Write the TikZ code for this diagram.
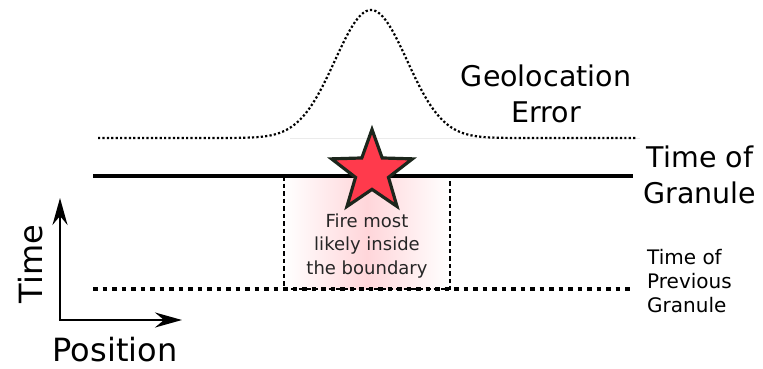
\documentclass[tikz,border=0pt]{standalone}
\usepackage{fontspec}
\setmainfont{DejaVu Sans}
\usetikzlibrary{shapes.geometric,arrows.meta}
\definecolor{firered}{HTML}{FF3A4C}
\definecolor{stardark}{HTML}{1C261C}
\definecolor{boxpink}{HTML}{FFD6DA}
\tikzset{
  bigtext/.style={font=\fontsize{28.5}{36}\selectfont, align=center, inner sep=0pt},
  smalltext/.style={font=\fontsize{20}{24}\selectfont, align=left, inner sep=0pt},
  boxtext/.style={font=\fontsize{18}{23.5}\selectfont, align=center, text=black!85, inner sep=0pt},
  axistext/.style={font=\fontsize{32}{38}\selectfont, inner sep=0pt},
  axisarrow/.style={line width=2.3pt, -{Stealth[length=27pt, width=15pt, inset=9pt]}},
}
\begin{document}
\begin{tikzpicture}[x=1pt, y=-1pt]
    \useasboundingbox (0,0) rectangle (763,369);
    %campana errore
        \draw[black!8, line width=0.8pt] (290,138) -- (640,138);
        \draw[line width=2.2pt, dash pattern=on 2.2pt off 2.2pt]
            plot[domain=98:636, samples=220, smooth] (\x, {138-128*exp(-0.5*((\x-371)/36)^2)});
        \node[bigtext] (errlabel) at (546,94) {Geolocation\\Error};
    %riquadro
        \shade[left color=white, right color=white, middle color=boxpink] (284,176) rectangle (450,289);
        \draw[line width=2.8pt, dash pattern=on 4.5pt off 3pt] (284,176) rectangle (450,289);
        \node[boxtext] (firetext) at (367,246) {Fire most\\likely inside\\the boundary};
    %linee tempo
        \coordinate (nowl) at (93,176);
        \coordinate (nowr) at (633,176);
        \coordinate (prevl) at (93,289);
        \coordinate (prevr) at (633,289);
        \draw[line width=3.3pt] (nowl) -- (nowr);
        \draw[line width=4.8pt, dash pattern=on 4.8pt off 4.7pt] (prevl) -- (prevr);
        \node[bigtext] (granlabel) at (700,175) {Time of\\Granule};
        \node[smalltext, anchor=west] (prevlabel) at (647,281) {Time of\\Previous\\Granule};
    %stella
        \node[star, star points=5, star point ratio=2.45, minimum size=85pt, inner sep=0pt,
              fill=firered, draw=stardark, line width=3.2pt] (fire) at (372,172) {};
    %assi
        \coordinate (orig) at (60,320);
        \coordinate (tend) at (60,198);
        \coordinate (pend) at (182,320);
        \draw[axisarrow] (orig) -- (tend);
        \draw[axisarrow] ([xshift=-1.1pt]orig) -- (pend);
        \node[axistext, rotate=90, anchor=base] (timelabel) at (42,264) {Time};
        \node[axistext, anchor=base] (poslabel) at (115,361) {Position};
\end{tikzpicture}
\end{document}
